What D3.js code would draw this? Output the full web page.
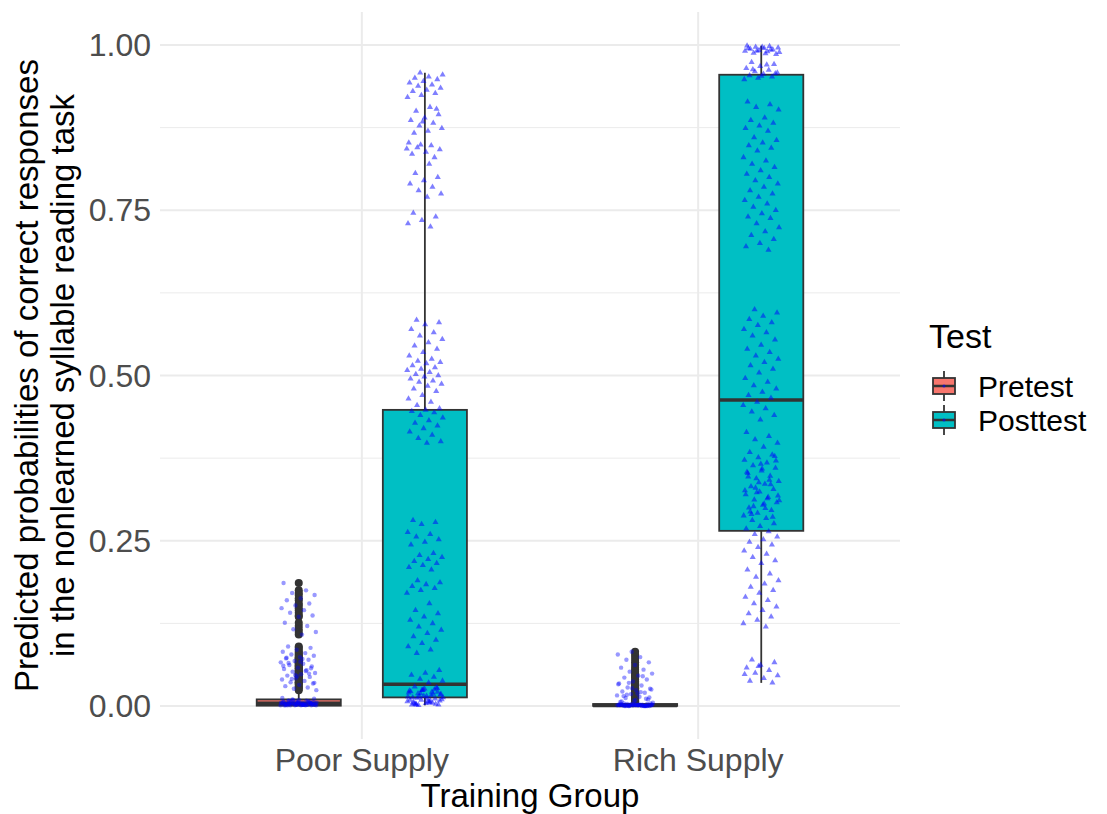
<!DOCTYPE html>
<html>
<head>
<meta charset="utf-8">
<script src="https://cdn.jsdelivr.net/npm/d3@7"></script>
<style>
  html, body { margin: 0; padding: 0; background: #ffffff; }
  svg { display: block; font-family: "Liberation Sans", Arial, Helvetica, sans-serif; }
</style>
</head>
<body>
<svg id="chart" width="1107" height="814"></svg>
<script>
// ---------------- DATA ----------------
const groups = ["Poor Supply", "Rich Supply"];
const tests = ["Pretest", "Posttest"];
const testColors = ["#F8766D", "#00BFC4"];
const yTicks = [0, 0.25, 0.5, 0.75, 1];
const yTickLabels = ["0.00", "0.25", "0.50", "0.75", "1.00"];
const yMinorTicks = [0.125, 0.375, 0.625, 0.875];

// box statistics, order: Poor/Pretest, Poor/Posttest, Rich/Pretest, Rich/Posttest
const boxGroup = ["Poor Supply", "Poor Supply", "Rich Supply", "Rich Supply"];
const boxTest  = ["Pretest", "Posttest", "Pretest", "Posttest"];
const boxLow   = [0.000, 0.001, 0.000, 0.035];
const boxQ1    = [0.0005, 0.013, 0.0002, 0.265];
const boxMed   = [0.004, 0.033, 0.001, 0.463];
const boxQ3    = [0.010, 0.448, 0.003, 0.955];
const boxHigh  = [0.022, 0.958, 0.005, 0.999];

// observed predicted probabilities (jittered points)
const poorPre = [
  0.001,0.002,0.003,0.004,0.005,0.006,0.008,0.010,0.002,0.001,0.003,0.005,0.007,0.004,0.002,0.001,
  0.006,0.009,0.003,0.002,0.004,0.001,0.005,0.008,0.003,0.002,0.006,0.001,0.004,0.011,0.002,0.003,
  0.007,0.001,0.005,0.002,0.004,0.003,0.006,0.001,0.002,0.009,0.004,0.003,0.001,0.005,0.002,0.012,
  0.003,0.006,0.002,0.004,0.001,0.007,0.003,0.005,0.002,0.008,0.001,0.004,
  0.186,0.175,0.171,0.168,0.163,0.160,0.155,0.152,0.148,0.145,0.141,0.137,0.135,0.126,0.121,0.116,
  0.112,0.108,0.090,0.088,0.085,0.082,0.080,0.078,0.076,0.074,0.072,0.070,0.068,0.066,0.064,0.062,
  0.060,0.058,0.056,0.054,0.052,0.050,0.048,0.046,0.044,0.042,0.040,0.038,0.036,0.034,0.032,0.030,
  0.028,0.026,0.024,0.071,0.065,0.057,0.045,0.061,0.053,0.041,0.035,0.067,0.073,0.049,0.047
];
const poorPost = [
  0.958,0.955,0.952,0.950,0.948,0.945,0.943,0.940,0.938,0.935,0.932,0.930,0.927,0.924,0.921,
  0.906,0.900,0.895,0.890,0.886,0.882,0.878,0.874,0.870,0.867,0.903,0.884,
  0.852,0.848,0.845,0.842,0.838,0.835,0.830,0.849,0.843,
  0.820,0.806,0.800,0.795,0.790,0.785,0.780,0.775,0.770,
  0.746,0.740,0.735,0.730,0.725,
  0.584,0.580,0.577,0.570,0.565,0.560,0.555,0.550,0.545,0.540,0.535,0.530,0.525,0.522,0.520,0.518,
  0.515,0.512,0.510,0.508,0.505,0.502,0.500,0.498,0.495,0.492,0.490,0.487,0.484,0.480,0.476,0.470,
  0.465,0.460,0.455,0.450,0.448,0.446,0.444,0.440,0.436,0.432,0.428,0.424,0.420,0.415,0.410,0.405,
  0.400,0.398,
  0.281,0.278,0.275,0.263,0.260,0.256,0.252,0.248,0.244,0.231,0.228,0.225,0.222,0.219,0.216,0.213,
  0.210,0.206,0.190,0.187,0.184,0.181,0.178,0.175,0.171,0.155,0.145,0.140,0.135,0.130,0.125,0.120,
  0.115,0.110,0.105,0.100,0.095,0.090,0.085,0.080,
  0.054,0.050,0.047,0.044,0.041,0.038,0.035,
  0.029,0.027,0.025,0.023,0.021,0.019,0.017,0.015,0.013,0.011,0.009,0.007,0.005,0.003,0.002,0.026,
  0.022,0.018,0.014,0.010,0.006,0.004,0.028,0.024,0.020,0.016,0.012,0.008,0.004,0.002,0.025,0.019,
  0.013,0.007,0.003,0.021,0.015,0.009,0.005,0.001,0.018,0.011,0.006,0.003,0.024,0.014,0.008,0.002
];
const richPre = [
  0.000,0.001,0.002,0.001,0.000,0.003,0.001,0.002,0.000,0.001,0.004,0.002,0.001,0.000,0.003,0.001,
  0.002,0.000,0.001,0.002,0.003,0.001,0.000,0.002,0.001,0.004,0.000,0.001,0.002,0.001,0.003,0.000,
  0.001,0.002,0.000,0.001,0.005,0.002,0.001,0.000,0.003,0.001,0.002,0.000,0.001,0.002,0.001,0.000,
  0.082,0.078,0.074,0.070,0.066,0.062,0.058,0.055,0.052,0.049,0.046,0.043,0.040,0.037,0.034,0.031,
  0.028,0.026,0.024,0.022,0.020,0.018,0.016,0.014,0.012,0.010,0.008,0.006,0.045,0.035,0.025,0.019,
  0.015,0.011,0.027,0.033,0.021,0.017,0.013,0.009,0.007
];
const richPost = [
  0.999,0.998,0.997,0.996,0.995,0.994,0.993,0.992,0.991,0.990,0.988,0.986,0.997,0.995,0.993,0.991,
  0.989,0.987,
  0.974,0.971,0.968,0.965,0.962,0.960,0.958,0.956,0.954,0.952,0.950,0.948,0.970,0.963,0.957,0.953,
  0.914,0.910,0.906,0.902,0.890,0.886,0.882,0.878,0.874,0.870,0.860,0.856,0.852,0.848,0.844,0.840,
  0.830,0.825,0.820,0.815,0.810,0.805,0.800,0.795,0.790,0.785,0.780,0.775,0.770,0.765,0.760,0.755,
  0.750,0.745,0.740,0.738,0.730,0.724,0.718,0.712,0.706,0.700,0.695,0.690,
  0.600,0.595,0.590,0.585,0.580,0.576,0.570,0.565,0.560,0.554,0.546,0.540,0.535,0.530,0.525,0.520,
  0.515,0.510,0.504,0.496,0.490,0.485,0.480,0.475,0.470,0.466,0.460,0.455,0.450,0.445,0.440,0.433,
  0.414,0.408,0.403,0.398,0.392,
  0.384,0.380,0.376,0.372,0.368,0.364,0.360,0.356,0.352,0.348,0.344,0.340,0.336,0.332,0.328,0.324,
  0.320,0.316,0.312,0.308,0.304,0.300,0.296,0.292,0.288,0.284,0.281,0.378,0.366,0.354,0.342,0.330,
  0.318,0.306,0.294,0.286,0.338,0.326,0.314,0.302,0.371,0.359,0.347,0.335,0.323,0.311,0.299,0.290,
  0.276,0.272,0.268,0.264,0.260,0.256,0.252,0.248,0.244,0.240,0.235,0.230,0.225,0.220,0.216,0.206,
  0.200,0.195,0.190,0.185,0.180,0.175,0.171,0.165,0.160,0.155,0.150,0.145,0.140,0.135,0.130,0.125,
  0.120,
  0.070,0.066,0.062,0.058,0.054,0.050,0.046,0.042,0.038,0.035,0.060,0.048
];
const pointSets = [poorPre, poorPost, richPre, richPost];

// ---------------- LAYOUT ----------------
const svg = d3.select("#chart");
const panel = { left: 160, right: 900, top: 12, bottom: 739 };

const x = d3.scalePoint().domain(groups).range([panel.left, panel.right]).padding(0.6);
const step = x.step();
const dodge = d3.scaleBand().domain(tests).range([-0.375 * step, 0.375 * step]);
const boxW = 0.25 * step;
const xc = (g, t) => x(g) + dodge(t) + dodge.bandwidth() / 2;

const y = d3.scaleLinear().domain([0, 1]).range([706, 45]);

// grid
const grid = svg.append("g");
grid.selectAll("line.minor").data(yMinorTicks).join("line")
  .attr("x1", panel.left).attr("x2", panel.right)
  .attr("y1", d => y(d)).attr("y2", d => y(d))
  .attr("stroke", "#EBEBEB").attr("stroke-width", 1);
grid.selectAll("line.major").data(yTicks).join("line")
  .attr("x1", panel.left).attr("x2", panel.right)
  .attr("y1", d => y(d)).attr("y2", d => y(d))
  .attr("stroke", "#EBEBEB").attr("stroke-width", 2);
grid.selectAll("line.vmajor").data(groups).join("line")
  .attr("x1", d => x(d)).attr("x2", d => x(d))
  .attr("y1", panel.top).attr("y2", panel.bottom)
  .attr("stroke", "#EBEBEB").attr("stroke-width", 2);

// boxes
const ink = "#333333";
const boxes = svg.append("g");
boxGroup.forEach((g, i) => {
  const t = boxTest[i];
  const cx = xc(g, t);
  const col = testColors[tests.indexOf(t)];
  const b = boxes.append("g");
  b.append("line").attr("x1", cx).attr("x2", cx).attr("y1", y(boxQ3[i])).attr("y2", y(boxHigh[i]))
    .attr("stroke", ink).attr("stroke-width", 1.8);
  b.append("line").attr("x1", cx).attr("x2", cx).attr("y1", y(boxQ1[i])).attr("y2", y(boxLow[i]))
    .attr("stroke", ink).attr("stroke-width", 1.8);
  const top = y(boxQ3[i]), bot = y(boxQ1[i]);
  b.append("rect").attr("x", cx - boxW / 2).attr("width", boxW)
    .attr("y", top).attr("height", Math.max(bot - top, 0.5))
    .attr("fill", col).attr("stroke", ink).attr("stroke-width", 1.8);
  b.append("line").attr("x1", cx - boxW / 2).attr("x2", cx + boxW / 2)
    .attr("y1", y(boxMed[i])).attr("y2", y(boxMed[i]))
    .attr("stroke", ink).attr("stroke-width", 3.6);
  // outliers
  const outl = pointSets[i].filter(v => v > boxHigh[i] || v < boxLow[i]);
  b.selectAll("circle.out").data(outl).join("circle")
    .attr("cx", cx).attr("cy", d => y(d)).attr("r", 4)
    .attr("fill", ink);
});

// jittered points
const pts = svg.append("g");
const jitterHalf = 0.054 * step;
const tri = d3.symbol().type(d3.symbolTriangle).size(16);
pointSets.forEach((arr, i) => {
  const cx = xc(boxGroup[i], boxTest[i]);
  const jx = k => ((k * 0.6180339887 + i * 0.37) % 1 - 0.5) * 2 * jitterHalf;
  if (boxTest[i] === "Pretest") {
    pts.selectAll(null).data(arr).join("circle")
      .attr("cx", (d, k) => cx + jx(k)).attr("cy", d => y(d)).attr("r", 2.2)
      .attr("fill", "#0000FF").attr("fill-opacity", 0.4);
  } else {
    pts.selectAll(null).data(arr).join("path")
      .attr("d", tri)
      .attr("transform", (d, k) => `translate(${cx + jx(k)},${y(d)})`)
      .attr("fill", "#0000FF").attr("fill-opacity", 0.5);
  }
});

// axes text
svg.append("g").selectAll("text").data(yTicks).join("text")
  .attr("x", 151).attr("y", d => y(d)).attr("dy", "0.35em")
  .attr("text-anchor", "end").attr("font-size", 32).attr("fill", "#4D4D4D")
  .text((d, i) => yTickLabels[i]);
svg.append("g").selectAll("text").data(groups).join("text")
  .attr("x", d => x(d)).attr("y", 771)
  .attr("text-anchor", "middle").attr("font-size", 32).attr("fill", "#4D4D4D")
  .text(d => d);
svg.append("text").attr("x", (panel.left + panel.right) / 2).attr("y", 807)
  .attr("text-anchor", "middle").attr("font-size", 33).attr("fill", "#000")
  .text("Training Group");
const yt = svg.append("text").attr("transform", `translate(0,${(panel.top + panel.bottom) / 2}) rotate(-90)`)
  .attr("text-anchor", "middle").attr("font-size", 33).attr("fill", "#000");
yt.append("tspan").attr("x", 0).attr("y", 38).text("Predicted probabilities of correct responses");
yt.append("tspan").attr("x", 0).attr("y", 74).text("in the nonlearned syllable reading task");

// legend
const lg = svg.append("g");
lg.append("text").attr("x", 929).attr("y", 348).attr("font-size", 34).attr("fill", "#000").text("Test");
tests.forEach((t, i) => {
  const cy = 386 + i * 34;
  const kx = 944;
  lg.append("line").attr("x1", kx).attr("x2", kx).attr("y1", cy - 15).attr("y2", cy + 15)
    .attr("stroke", ink).attr("stroke-width", 1.8);
  lg.append("rect").attr("x", kx - 11).attr("width", 22).attr("y", cy - 8).attr("height", 16)
    .attr("fill", testColors[i]).attr("stroke", ink).attr("stroke-width", 1.8);
  lg.append("line").attr("x1", kx - 11).attr("x2", kx + 11).attr("y1", cy).attr("y2", cy)
    .attr("stroke", ink).attr("stroke-width", 2.5);
  lg.append("circle").attr("cx", kx).attr("cy", cy).attr("r", 1.5).attr("fill", "#0000FF").attr("fill-opacity", 0.6);
  lg.append("text").attr("x", 978).attr("y", cy).attr("dy", "0.35em")
    .attr("font-size", 30).attr("fill", "#000").text(t);
});
</script>
</body>
</html>
